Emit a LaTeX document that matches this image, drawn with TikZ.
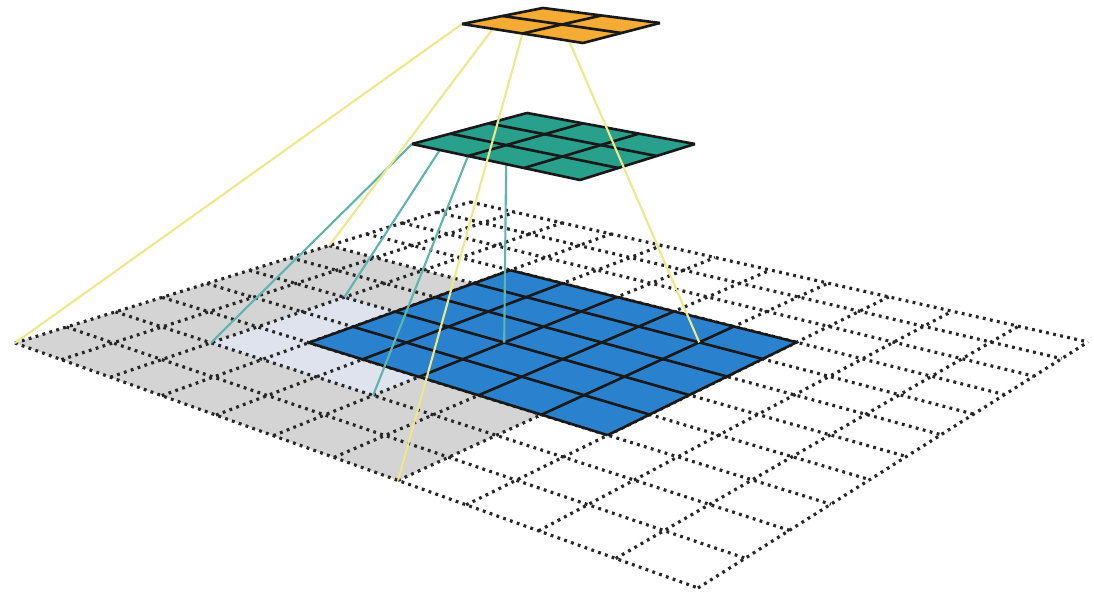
\documentclass[tikz,border=0pt]{standalone}
\usetikzlibrary{calc}

\definecolor{fieldgray}{RGB}{212,212,212}
\definecolor{fieldpale}{RGB}{222,227,238}
\definecolor{cellblue}{RGB}{42,130,206}
\definecolor{cellgreen}{RGB}{40,160,140}
\definecolor{cellorange}{RGB}{246,172,52}
\definecolor{rayyellow}{RGB}{236,232,140}
\definecolor{rayteal}{RGB}{96,180,170}

\tikzset{
  dotline/.style={line width=1.8pt, dash pattern=on 1.6pt off 2.5pt, black!85},
  cellline/.style={line width=1.5pt, black!90, line join=round},
  ray/.style={line width=1.2pt},
}

\begin{document}
\begin{tikzpicture}[x=0.02cm, y=-0.02cm]
\useasboundingbox (0,0) rectangle (1094,597);

% input plane, 11 x 11 cells in perspective
\foreach \i in {0,...,11}{
  \foreach \j in {0,...,11}{
    \pgfmathsetmacro{\pu}{\i/11}
    \pgfmathsetmacro{\pv}{\j/11}
    \pgfmathsetmacro{\ka}{(1-\pu)*(1-\pv)}
    \pgfmathsetmacro{\kb}{0.730*\pu*(1-\pv)}
    \pgfmathsetmacro{\kc}{1.2755*(1-\pu)*\pv}
    \pgfmathsetmacro{\kd}{1.0055*\pu*\pv}
    \pgfmathsetmacro{\ks}{\ka+\kb+\kc+\kd}
    \coordinate (g-\i-\j) at ({(15*\ka+698*\kb+470*\kc+1088*\kd)/\ks},{(343*\ka+588*\kb+202*\kc+342*\kd)/\ks});
  }
}

% middle and top planes
\coordinate (mL) at (412,144);
\coordinate (mB) at (580,180);
\coordinate (mT) at (527,113);
\coordinate (mR) at (695,144);
\foreach \i in {0,...,3}{
  \foreach \j in {0,...,3}{
    \coordinate (m-\i-\j) at ($ ($(mL)!\i/3!(mB)$)!\j/3!($(mT)!\i/3!(mR)$) $);
  }
}
\coordinate (oL) at (462,24);
\coordinate (oB) at (583,43);
\coordinate (oT) at (543,8);
\coordinate (oR) at (660,23);
\foreach \i in {0,...,2}{
  \foreach \j in {0,...,2}{
    \coordinate (o-\i-\j) at ($ ($(oL)!\i/2!(oB)$)!\j/2!($(oT)!\i/2!(oR)$) $);
  }
}

\fill[fieldgray] (g-0-0) -- (g-7-0) -- (g-7-7) -- (g-0-7) -- cycle;
\fill[fieldpale] (g-2-2) -- (g-5-2) -- (g-5-5) -- (g-2-5) -- cycle;
\foreach \k in {0,...,11}{
  \draw[dotline] (g-\k-0) -- (g-\k-11);
  \draw[dotline] (g-0-\k) -- (g-11-\k);
}

\fill[cellblue] (g-3-3) -- (g-8-3) -- (g-8-8) -- (g-3-8) -- cycle;
\foreach \k in {3,...,8}{
  \draw[cellline] (g-\k-3) -- (g-\k-8);
  \draw[cellline] (g-3-\k) -- (g-8-\k);
}

\draw[ray, rayteal] (m-0-0) -- (g-2-2);
\draw[ray, rayteal] (m-1-0) -- (g-5-2);
\draw[ray, rayteal] (m-0-1) -- (g-2-5);
\draw[ray, rayteal] (m-1-1) -- (g-5-5);

\fill[cellgreen] (m-0-0) -- (m-3-0) -- (m-3-3) -- (m-0-3) -- cycle;
\foreach \k in {0,...,3}{
  \draw[cellline] (m-\k-0) -- (m-\k-3);
  \draw[cellline] (m-0-\k) -- (m-3-\k);
}

\draw[ray, rayyellow] (o-0-0) -- (g-0-0);
\draw[ray, rayyellow] (o-1-0) -- (g-7-0);
\draw[ray, rayyellow] (o-0-1) -- (g-0-7);
\draw[ray, rayyellow] (o-1-1) -- (g-7-7);

\fill[cellorange] (o-0-0) -- (o-2-0) -- (o-2-2) -- (o-0-2) -- cycle;
\foreach \k in {0,...,2}{
  \draw[cellline] (o-\k-0) -- (o-\k-2);
  \draw[cellline] (o-0-\k) -- (o-2-\k);
}
\end{tikzpicture}
\end{document}
